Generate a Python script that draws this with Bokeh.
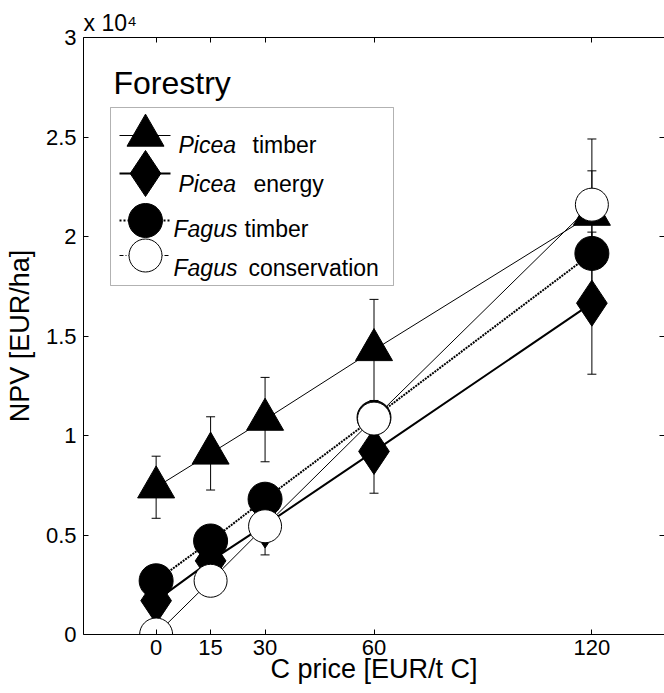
from bokeh.plotting import figure
from bokeh.models import Label, BoxAnnotation, LinearAxis, Title
from bokeh.embed import file_html
from bokeh.resources import INLINE

# ---------------- data ----------------
c_price = [0, 15, 30, 60, 120]
x_ticks = [0, 15, 30, 60, 120]
y_ticks = [0, 5000, 10000, 15000, 20000, 25000, 30000]
y_tick_labels = ["0", "0.5", "1", "1.5", "2", "2.5", "3"]

picea_timber = [7400, 9100, 10800, 14300, 21100]
picea_timber_err = [1560, 1840, 2120, 2540, 3800]
picea_energy = [1700, 3700, 5500, 9200, 16650]
picea_energy_err = [0, 0, 1500, 2100, 3570]
fagus_timber = [2700, 4700, 6800, 10900, 19150]
fagus_timber_err = [0, 0, 0, 0, 0]
fagus_cons = [0, 2700, 5440, 10850, 21600]
fagus_cons_err = [0, 0, 0, 0, 1700]

legend_italic = ["Picea", "Picea", "Fagus", "Fagus"]
legend_normal = ["timber", "energy", "timber", "conservation"]

title_text = "Forestry"
exponent_text = "x 10\u2074"
x_label = "C price [EUR/t C]"
y_label = "NPV [EUR/ha]"

# ---------------- layout ----------------
FONT = "Liberation Sans"
XR = (-20, 140)
YR = (0, 30000)
FL, FT, FW, FH = 83, 37, 581, 597   # frame position in canvas px
W, H = 664, 693


def px_x(px):
    return XR[0] + (px - FL) / FW * (XR[1] - XR[0])


def px_y(py):
    return YR[1] - (py - FT) / FH * (YR[1] - YR[0])


series = [
    (picea_timber, picea_timber_err, dict(marker="triangle", size=37, fill="black", lw=1, dash="solid", ldash="solid")),
    (picea_energy, picea_energy_err, dict(marker="diamond", size=46, fill="black", lw=2, dash="solid", ldash="solid")),
    (fagus_timber, fagus_timber_err, dict(marker="circle", size=34, fill="black", lw=2, dash="2 1", ldash="2 2")),
    (fagus_cons, fagus_cons_err, dict(marker="circle", size=33, fill="white", lw=1, dash="solid", ldash="4 2 1 2")),
]

p = figure(width=W, height=H, x_range=XR, y_range=YR,
           output_backend="svg", toolbar_location=None,
           min_border_left=FL, min_border_top=FT,
           min_border_right=W - FL - FW,
           min_border_bottom=H - FT - FH)
p.xgrid.visible = False
p.ygrid.visible = False
p.outline_line_color = None
p.background_fill_color = "white"

p.title = Title(text=exponent_text, align="left", offset=0, standoff=4,
                text_font=FONT, text_font_size="23px", text_font_style="normal",
                text_color="black")

for ax in (p.xaxis[0], p.yaxis[0]):
    ax.major_tick_in = 5
    ax.major_tick_out = 0
    ax.minor_tick_line_color = None
    ax.axis_line_color = "black"
    ax.major_tick_line_color = "black"
    ax.major_label_text_font = FONT
    ax.major_label_text_font_size = "22px"
    ax.major_label_text_color = "black"
    ax.axis_label_text_font = FONT
    ax.axis_label_text_font_size = "27px"
    ax.axis_label_text_font_style = "normal"
    ax.axis_label_text_color = "black"

p.xaxis.ticker = x_ticks
p.yaxis.ticker = y_ticks
p.yaxis.major_label_overrides = {t: l for t, l in zip(y_ticks, y_tick_labels)}
p.xaxis.axis_label = x_label
p.yaxis.axis_label = y_label
p.xaxis.major_label_standoff = 5
p.xaxis.axis_label_standoff = -4
p.yaxis.major_label_standoff = 7
p.yaxis.axis_label_standoff = 8

top = LinearAxis(ticker=x_ticks, major_label_text_font_size="0px", major_label_standoff=0,
                 major_label_text_color=None,
                 major_tick_in=5, major_tick_out=0, minor_tick_line_color=None,
                 axis_line_color="black", major_tick_line_color="black")
p.add_layout(top, "above")
right = LinearAxis(ticker=y_ticks, major_label_text_font_size="0px", major_label_standoff=0,
                   major_label_text_color=None,
                   major_tick_in=5, major_tick_out=0, minor_tick_line_color=None,
                   axis_line_color=None, major_tick_line_color="black")
p.add_layout(right, "right")

# ---------------- data series ----------------
for vals, errs, st in series:
    p.line(c_price, vals, line_color="black", line_width=st["lw"], line_dash=st["dash"])
    ex = [x for x, e in zip(c_price, errs) if e > 0]
    lo = [v - e for v, e in zip(vals, errs) if e > 0]
    hi = [v + e for v, e in zip(vals, errs) if e > 0]
    if ex:
        p.segment(x0=ex, y0=lo, x1=ex, y1=hi, line_color="black", line_width=1)
        p.scatter(ex + ex, lo + hi, marker="dash", size=9, line_color="black", line_width=1)
    p.scatter(c_price, vals, marker=st["marker"], size=st["size"],
              fill_color=st["fill"], line_color="black", line_width=1)

# ---------------- legend (drawn by hand) ----------------
leg_box = (110, 107, 393, 285)
leg_line_x = (119, 170)
leg_marker_x = 145
leg_rows = [135, 173, 220, 255]
leg_base = [144, 183, 228, 267]
leg_it_x = [178, 178, 173, 173]
leg_no_x = [252, 253, 244, 248]

p.add_layout(BoxAnnotation(left=px_x(leg_box[0]), right=px_x(leg_box[2]),
                           top=px_y(leg_box[1]), bottom=px_y(leg_box[3]),
                           fill_color="white", fill_alpha=1, line_color="black",
                           line_width=1, level="underlay"))

for i, (vals, errs, st) in enumerate(series):
    yy = px_y(leg_rows[i])
    p.line([px_x(leg_line_x[0]), px_x(leg_line_x[1])], [yy, yy], line_color="black",
           line_width=st["lw"], line_dash=st["ldash"])
    p.scatter([px_x(leg_marker_x)], [yy], marker=st["marker"], size=st["size"],
              fill_color=st["fill"], line_color="black", line_width=1)
    p.add_layout(Label(x=px_x(leg_it_x[i]), y=px_y(leg_base[i]), text=legend_italic[i],
                       text_font=FONT, text_font_size="23px", text_font_style="italic",
                       text_baseline="alphabetic", text_color="black"))
    p.add_layout(Label(x=px_x(leg_no_x[i]), y=px_y(leg_base[i]), text=legend_normal[i],
                       text_font=FONT, text_font_size="23px",
                       text_baseline="alphabetic", text_color="black"))

# ---------------- panel title ----------------
p.add_layout(Label(x=px_x(113), y=px_y(82), text=title_text, text_font=FONT,
                   text_font_size="32px", text_baseline="alphabetic", text_color="black"))

open("out.html", "w").write(file_html(p, INLINE))
